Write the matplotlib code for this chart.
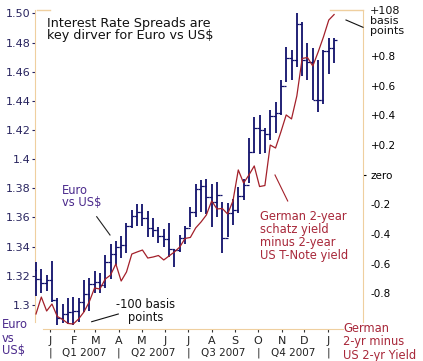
import numpy as np
import pandas as pd
import matplotlib
matplotlib.use("Agg")
import matplotlib.pyplot as plt
import matplotlib.dates as mdates
from matplotlib.lines import Line2D
from matplotlib.ticker import FixedLocator

# weekly Euro vs US$ bars (high / low / close), Dec 2006 - Jan 2008
weeks = pd.date_range("2006-12-13", periods=57, freq="7D")

eur_high = [1.3295, 1.3247, 1.3206, 1.3302, 1.3048, 1.3007, 1.3048, 1.3055, 1.3048, 1.3171,
            1.3185, 1.3233, 1.3219, 1.3343, 1.3418, 1.3439, 1.3473, 1.3562, 1.3652, 1.3693,
            1.3693, 1.3645, 1.3597, 1.3535, 1.3521, 1.3562, 1.3384, 1.3480, 1.3542, 1.3672,
            1.3830, 1.3857, 1.3864, 1.3830, 1.3844, 1.3706, 1.3700, 1.3727, 1.3809, 1.3864,
            1.4145, 1.4289, 1.4303, 1.4214, 1.4337, 1.4392, 1.4543, 1.4770, 1.4749, 1.5003,
            1.4941, 1.4797, 1.4763, 1.4680, 1.4749, 1.4831, 1.4831]
eur_low = [1.3062, 1.3082, 1.3096, 1.3021, 1.2863, 1.2877, 1.2870, 1.2863, 1.2883, 1.2952,
           1.2959, 1.3082, 1.3082, 1.3117, 1.3178, 1.3274, 1.3322, 1.3357, 1.3528, 1.3542,
           1.3542, 1.3466, 1.3466, 1.3425, 1.3398, 1.3329, 1.3261, 1.3364, 1.3418, 1.3535,
           1.3604, 1.3638, 1.3624, 1.3535, 1.3604, 1.3357, 1.3466, 1.3549, 1.3631, 1.3720,
           1.3837, 1.4043, 1.4036, 1.4043, 1.4132, 1.4180, 1.4303, 1.4529, 1.4543, 1.4632,
           1.4571, 1.4543, 1.4406, 1.4324, 1.4379, 1.4584, 1.4660]
eur_close = [1.3178, 1.3151, 1.3171, 1.3034, 1.2911, 1.2938, 1.2952, 1.2959, 1.3021, 1.3075,
             1.3144, 1.3158, 1.3137, 1.3295, 1.3350, 1.3398, 1.3412, 1.3542, 1.3610, 1.3638,
             1.3597, 1.3528, 1.3514, 1.3473, 1.3453, 1.3384, 1.3377, 1.3460, 1.3528, 1.3638,
             1.3796, 1.3816, 1.3741, 1.3706, 1.3754, 1.3460, 1.3631, 1.3652, 1.3748, 1.3823,
             1.4049, 1.4214, 1.4200, 1.4173, 1.4296, 1.4317, 1.4502, 1.4694, 1.4680, 1.4927,
             1.4680, 1.4667, 1.4406, 1.4406, 1.4742, 1.4763, 1.4818]
eur_open = [1.3240] + eur_close[:-1]

# German 2-yr minus US 2-yr yield (percentage points)
spread = [-0.939, -0.825, -0.919, -0.872, -0.956, -0.976, -1.003, -1.007, -0.973, -0.926,
          -0.858, -0.764, -0.771, -0.704, -0.677, -0.602, -0.717, -0.656, -0.535, -0.521,
          -0.508, -0.562, -0.555, -0.545, -0.575, -0.548, -0.521, -0.488, -0.430, -0.423,
          -0.359, -0.319, -0.272, -0.177, -0.231, -0.228, -0.265, -0.177, 0.032, -0.056,
          -0.002, 0.059, -0.080, -0.073, 0.200, 0.180, 0.288, 0.403, 0.376, 0.531,
          0.784, 0.790, 0.733, 0.827, 0.929, 1.043, 1.080]

left_ticks = [1.30, 1.32, 1.34, 1.36, 1.38, 1.40, 1.42, 1.44, 1.46, 1.48, 1.50]
left_labels = ["1.3", "1.32", "1.34", "1.36", "1.38", "1.4", "1.42", "1.44", "1.46", "1.48", "1.50"]
right_ticks = [-0.8, -0.6, -0.4, -0.2, 0.0, 0.2, 0.4, 0.6, 0.8]
right_labels = ["-0.8", "-0.6", "-0.4", "-0.2", "zero", "+0.2", "+0.4", "+0.6", "+0.8"]
month_starts = pd.date_range("2007-01-01", periods=13, freq="MS")
month_letters = ["J", "F", "M", "A", "M", "J", "J", "A", "S", "O", "N", "D", "J"]
quarter_starts = pd.date_range("2007-01-01", periods=5, freq="QS")
quarter_labels = ["Q1 2007", "Q2 2007", "Q3 2007", "Q4 2007"]

navy = "#10106b"
red = "#a3202a"
red_txt = "#a8283a"
purple = "#4b2a8c"
tan = "#efcf9f"

W, H = 423, 361


def fxy(px, py):
    # pixel position (from top-left) -> figure fraction
    return px / W, 1 - py / H


fig = plt.figure(figsize=(W / 100, H / 100), dpi=100)
ax = fig.add_axes([35 / W, 1 - 329 / H, 328 / W, 319 / H])
ax2 = ax.twinx()

xd = mdates.date2num(weeks)
x0, x1 = xd[0] - 1.3, xd[0] + 430
ax.set_xlim(x0, x1)
ax.set_ylim(1.2835, 1.5023)
ax2.set_ylim(-1.0405, 1.1106)

# OHLC bars
tw = 3.5
ax.vlines(xd, eur_low, eur_high, color=navy, lw=1.3, zorder=3)
ax.hlines(eur_open, xd - tw, xd, color=navy, lw=0.9, zorder=3)
ax.hlines(eur_close, xd, xd + tw, color=navy, lw=0.9, zorder=3)

# spread line
ax2.plot(xd, spread, color=red, lw=0.9)

# spines
for s in ["top", "right"]:
    ax.spines[s].set_visible(False)
for s in ["top", "left", "bottom"]:
    ax2.spines[s].set_visible(False)
ax.spines["left"].set_color(tan)
ax.spines["bottom"].set_color(tan)
ax2.spines["right"].set_color(tan)
yl = ax.get_ylim()
ax.spines["left"].set_bounds(yl[0] + (yl[1] - yl[0]) * 7 / 319, yl[1])
yr = ax2.get_ylim()
ax2.spines["right"].set_bounds(yr[0] + (yr[1] - yr[0]) * 7 / 319, yr[1])
ax.spines["bottom"].set_bounds(x0 + (x1 - x0) * 8 / 328, x0 + (x1 - x0) * 308 / 328)
for a, b in [(37, 50), (330, 363)]:
    fig.add_artist(Line2D([a / W, b / W], [1 - 10 / H] * 2, color=tan, lw=1))

# left axis
ax.yaxis.set_major_locator(FixedLocator(left_ticks))
ax.set_yticklabels(left_labels)
ax.tick_params(axis="y", length=2.2, width=0.8, color="#27235e", labelcolor="#27235e",
               labelsize=8, pad=0.8)

# right axis
ax2.yaxis.set_major_locator(FixedLocator(right_ticks))
ax2.set_yticklabels(right_labels)
ax2.yaxis.remove_overlapping_locs = False
ax2.yaxis.set_minor_locator(FixedLocator([0.0]))
ax2.tick_params(axis="y", which="major", length=0, labelsize=7.5, labelcolor="black", pad=5.5)
ax2.tick_params(axis="y", which="minor", length=2.2, width=0.8, color="black")

# x axis: months and quarters
ax.set_xticks(mdates.date2num(month_starts))
ax.set_xticklabels(month_letters)
ax.tick_params(axis="x", length=2.2, width=0.8, color="#333333", labelcolor="#222222",
               labelsize=8, pad=2.5)
qx = mdates.date2num(quarter_starts)
tr = ax.get_xaxis_transform()
for i, lab in enumerate(quarter_labels):
    ax.text((qx[i] + qx[i + 1]) / 2, -0.075, lab, transform=tr, ha="center", va="center",
            fontsize=7.5, color="#222222")
for q in qx:
    ax.text(q, -0.075, "|", transform=tr, ha="center", va="center", fontsize=8, color="#222222")

# annotations
fig.text(*fxy(47, 29.5), "Interest Rate Spreads are\nkey dirver for Euro vs US$",
         fontsize=9.2, ha="left", va="center", linespacing=1.0, color="#111111")
fig.text(*fxy(62, 196.5), "Euro\nvs US$", fontsize=8.3, ha="left", va="center",
         linespacing=1.0, color=purple)
fig.text(*fxy(146, 311.5), "-100 basis\npoints", fontsize=8.3, ha="center", va="center",
         linespacing=1.0, color="#111111")
fig.text(*fxy(260, 236), "German 2-year\nschatz yield\nminus 2-year\nUS T-Note yield",
         fontsize=8.3, ha="left", va="center", linespacing=1.0, color=red_txt)
fig.text(*fxy(370, 21), "+108\nbasis\npoints", fontsize=8, ha="left", va="center",
         linespacing=1.0, color="#111111")
fig.text(*fxy(2, 338), "Euro\nvs\nUS$", fontsize=8.3, ha="left", va="center",
         linespacing=1.0, color=purple)
fig.text(*fxy(343, 342), "German\n2-yr minus\nUS 2-yr Yield", fontsize=8.3, ha="left",
         va="center", linespacing=1.0, color=red_txt)

for (a, b), (c, d), col in [((96.7, 216.7), (110, 235), "#222222"),
                            ((91.7, 321.7), (118.3, 314), "#111111"),
                            ((275, 175), (287.7, 201), red),
                            ((346, 20), (363, 27.3), "#111111")]:
    p, q = fxy(a, b), fxy(c, d)
    fig.add_artist(Line2D([p[0], q[0]], [p[1], q[1]], color=col, lw=0.8))

fig.savefig("out.png", dpi=100, facecolor="white")
